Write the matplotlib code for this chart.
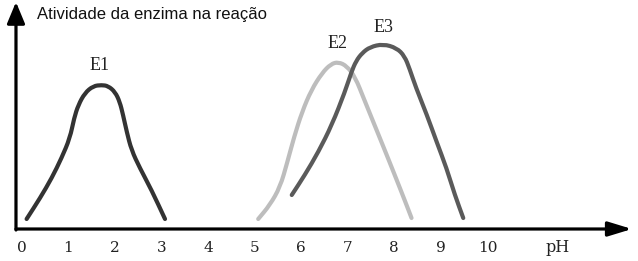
import matplotlib.pyplot as plt
from matplotlib.path import Path
from matplotlib.patches import PathPatch

# --------------------
# Data (pH vs. enzyme activity, arbitrary units)
# --------------------
e1_ph = [0.11, 0.40, 0.65, 0.86, 1.04, 1.13, 1.22, 1.36, 1.54, 1.72, 1.86, 2.01, 2.11, 2.18,
         2.26, 2.36, 2.54, 2.79, 3.08]
e1_act = [10, 31, 51, 71, 91, 111, 124, 136, 143, 144, 143, 137, 127, 114,
          97, 79, 61, 39, 10]

e2_ph = [5.08, 5.33, 5.55, 5.70, 5.85, 6.02, 6.22, 6.45, 6.64, 6.80, 6.98, 7.16, 7.35, 7.55,
         7.76, 8.01, 8.23, 8.37]
e2_act = [10, 24, 42, 66, 92, 117, 139, 156, 165, 167, 163, 152, 130, 107,
          83, 54, 28, 11]

e3_ph = [5.80, 6.08, 6.37, 6.66, 6.94, 7.08, 7.18, 7.31, 7.48, 7.76, 8.05, 8.22, 8.33, 8.46,
         8.70, 8.91, 9.12, 9.30, 9.48]
e3_act = [34, 54, 77, 104, 137, 157, 168, 176, 182, 185, 181, 173, 160, 142,
          114, 87, 61, 34, 11]

tick_values = [0, 1, 2, 3, 4, 5, 6, 7, 8, 9, 10]
tick_labels = ["0", "1", "2", "3", "4", "5", "6", "7", "8", "9", "10"]

enzyme_names = ["E1", "E2", "E3"]
label_pos = [(1.68, 164), (6.79, 185), (7.76, 202)]


def smooth_path(xs, ys):
    # quadratic bezier through the midpoints, read points act as control points
    pts = list(zip(xs, ys))
    mid = lambda a, b: ((a[0] + b[0]) / 2, (a[1] + b[1]) / 2)
    verts = [pts[0], mid(pts[0], pts[1])]
    codes = [Path.MOVETO, Path.LINETO]
    for i in range(1, len(pts) - 1):
        verts += [pts[i], mid(pts[i], pts[i + 1])]
        codes += [Path.CURVE3, Path.CURVE3]
    verts.append(pts[-1])
    codes.append(Path.LINETO)
    return Path(verts, codes)


# --------------------
# Figure
# --------------------
fig = plt.figure(figsize=(6.38, 2.61), dpi=100)
ax = fig.add_axes([0, 0, 1, 1])
ax.set_xlim(-0.461, 13.23)
ax.set_ylim(-32, 229)
ax.axis("off")

# axes with arrows
ax.annotate("", xy=(13.10, 0), xytext=(-0.118, 0),
            arrowprops=dict(arrowstyle="-|>,head_length=0.72,head_width=0.22",
                            lw=2.3, color="black", mutation_scale=20,
                            shrinkA=0, shrinkB=0))
ax.annotate("", xy=(-0.118, 227), xytext=(-0.118, -1),
            arrowprops=dict(arrowstyle="-|>,head_length=0.65,head_width=0.27",
                            lw=2.3, color="black", mutation_scale=20,
                            shrinkA=0, shrinkB=0))

# curves
for xs, ys, col in [(e1_ph, e1_act, "#333333"),
                    (e2_ph, e2_act, "#bdbdbd"),
                    (e3_ph, e3_act, "#5a5a5a")]:
    ax.add_patch(PathPatch(smooth_path(xs, ys), facecolor="none", edgecolor=col,
                           lw=3.0, capstyle="round", joinstyle="round"))

# curve labels
for name, (x, y) in zip(enzyme_names, label_pos):
    ax.text(x, y, name, ha="center", va="center",
            family="Liberation Serif", fontsize=13, color="#222222")

# tick labels
for v, lab in zip(tick_values, tick_labels):
    ax.text(v, -19, lab, ha="center", va="center",
            family="DejaVu Serif", fontsize=11, color="#222222")
ax.text(11.51, -19, "pH", ha="center", va="center",
        family="DejaVu Serif", fontsize=11.5, color="#222222")

# y axis title
ax.text(0.333, 214, "Atividade da enzima na reação", ha="left", va="center",
        family="Liberation Sans", fontsize=12, color="#111111")

fig.savefig("out.png", dpi=100)
